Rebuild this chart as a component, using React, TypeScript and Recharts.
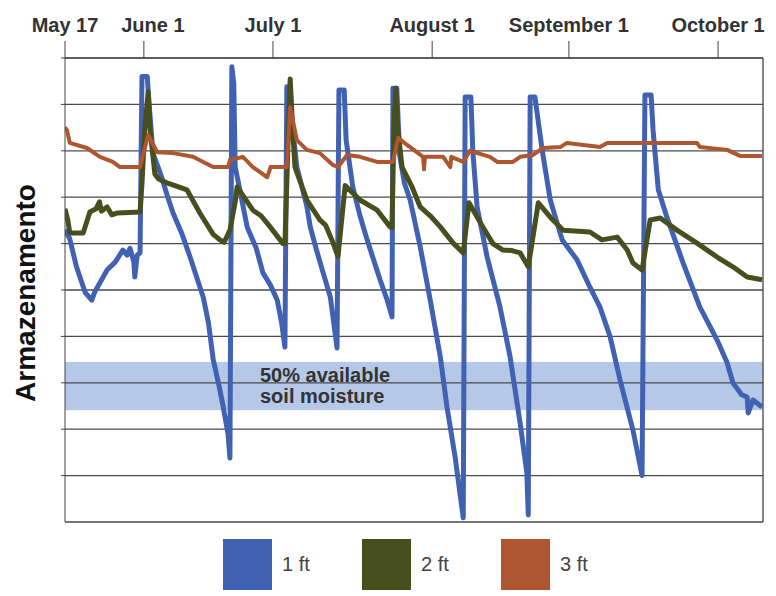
import {
  LineChart,
  Line,
  XAxis,
  YAxis,
  CartesianGrid,
  ReferenceArea,
  ReferenceLine,
} from "recharts";

// days counted from May 17
const tickDays = [0, 16.5, 43.5, 76.8, 105.4, 136.6];
const tickLabels = ["May 17", "June 1", "July 1", "August 1", "September 1", "October 1"];
const yTicks = [0, 1, 2, 3, 4, 5, 6, 7, 8, 9, 10];
const lastDay = 146;
const band = [2.41, 3.45];
const bandText = ["50% available", "soil moisture"];

const depthLabels = ["1 ft", "2 ft", "3 ft"];
const depthColors = ["#4162b2", "#474f1f", "#ad5630"];

const ft1: [number, number][] = [
  [0, 6.3], [1.0, 6.1], [2.4, 5.5], [4.2, 4.95], [5.6, 4.78], [6.2, 4.95], [8.8, 5.43],
  [10.5, 5.6], [12.1, 5.86], [13.0, 5.75], [13.6, 5.9], [14.4, 5.6], [14.6, 5.28], [15.1, 5.75],
  [15.7, 5.8], [16.1, 9.6], [17.2, 9.6], [17.6, 9.0], [18.4, 7.95], [20.0, 7.5], [21.5, 7.0],
  [22.6, 6.66], [24.5, 6.2], [26.2, 5.7], [28.9, 4.85], [30.0, 4.3], [31.0, 3.5], [32.3, 2.9],
  [33.1, 2.48], [34.1, 1.9], [34.5, 1.38], [34.9, 9.81], [35.3, 9.45], [35.6, 7.65], [36.5, 7.2],
  [38.1, 6.36], [40.0, 5.9], [41.4, 5.37], [43.0, 5.1], [44.4, 4.78], [45.3, 4.3], [46.0, 3.77],
  [46.4, 9.38], [47.1, 9.38], [47.5, 8.6], [48.5, 7.65], [50.6, 6.8], [51.3, 6.36], [52.5, 5.9],
  [54.0, 5.37], [55.5, 4.85], [56.9, 3.75], [57.3, 9.31], [58.4, 9.31], [58.8, 8.23], [60.2, 7.22],
  [61.7, 6.6], [63.2, 6.08], [65.9, 5.22], [67.4, 4.78], [68.4, 4.42], [68.6, 9.35], [69.4, 9.35],
  [70.0, 7.9], [71.0, 7.3], [72.2, 6.94], [74.3, 5.93], [76.4, 4.78], [78.5, 3.56], [79.9, 2.48],
  [81.6, 1.4], [83.3, 0.09], [83.7, 9.16], [84.9, 9.16], [85.3, 8.0], [86.2, 6.79], [88.3, 5.71],
  [91.0, 4.63], [93.1, 3.56], [95.2, 2.13], [96.6, 1.06], [96.9, 0.15], [97.3, 9.16], [98.3, 9.16],
  [99.8, 8.02], [101.5, 6.94], [104.0, 6.08], [107.1, 5.65], [109.8, 5.06], [111.9, 4.63],
  [114.0, 4.0], [116.1, 3.06], [118.8, 1.98], [120.7, 1.0], [121.3, 9.2], [122.6, 9.2], [123.0, 8.45],
  [124.1, 7.16], [125.9, 6.57], [129.3, 5.58], [132.8, 4.63], [136.4, 3.92], [138.5, 3.43],
  [139.7, 3.0], [141.5, 2.75], [142.7, 2.69], [142.9, 2.35], [143.9, 2.63], [145.8, 2.48],
];

const ft2: [number, number][] = [
  [0, 6.75], [0.6, 6.5], [1.0, 6.23], [3.8, 6.23], [5.2, 6.68], [6.5, 6.75], [7.2, 6.9], [7.6, 6.7],
  [8.8, 6.79], [9.8, 6.62], [11.0, 6.66], [15.7, 6.68], [16.1, 7.3], [16.7, 8.5], [17.4, 9.27],
  [17.8, 8.45], [18.8, 7.5], [19.5, 7.4], [21.3, 7.31], [23.0, 7.25], [25.5, 7.16], [28.2, 6.66],
  [31.0, 6.2], [32.4, 6.08], [33.3, 6.03], [34.5, 6.29], [35.6, 6.9], [36.0, 7.22], [39.3, 6.72],
  [41.0, 6.6], [42.9, 6.36], [45.6, 6.0], [46.0, 6.0], [46.6, 8.0], [47.1, 9.55], [47.6, 8.5],
  [48.1, 7.65], [50.6, 6.94], [53.3, 6.51], [54.5, 6.4], [56.1, 6.01], [57.1, 5.72], [58.6, 7.25],
  [61.7, 6.94], [65.3, 6.72], [68.0, 6.36], [68.4, 6.34], [68.8, 8.5], [69.2, 9.35], [69.6, 8.5],
  [70.5, 7.65], [72.6, 7.22], [74.3, 6.79], [76.4, 6.6], [78.5, 6.36], [81.2, 6.01], [83.3, 5.8],
  [84.5, 6.88], [87.4, 6.36], [89.5, 6.0], [91.6, 5.86], [93.5, 5.85], [95.2, 5.8], [96.9, 5.5],
  [99.0, 6.88], [101.5, 6.57], [104.2, 6.29], [109.8, 6.25], [112.3, 6.08], [115.5, 6.14],
  [117.6, 5.86], [118.8, 5.58], [120.7, 5.43], [122.4, 6.51], [124.5, 6.55], [128.0, 6.29],
  [132.2, 6.01], [136.4, 5.71], [139.7, 5.5], [142.7, 5.28], [145.8, 5.22],
];

const ft3: [number, number][] = [
  [0, 8.5], [0.4, 8.45], [1.0, 8.17], [4.6, 8.06], [7.3, 7.87], [10.0, 7.76], [11.5, 7.65],
  [15.7, 7.65], [17.4, 8.34], [19.3, 7.97], [22.6, 7.95], [26.8, 7.87], [28.9, 7.76], [31.0, 7.65],
  [34.1, 7.65], [34.5, 7.8], [37.2, 7.87], [39.3, 7.65], [42.3, 7.43], [43.0, 7.65], [46.4, 7.65],
  [47.1, 8.94], [48.5, 8.23], [50.6, 8.02], [53.3, 7.95], [56.1, 7.69], [57.1, 7.65], [59.0, 7.91],
  [61.7, 7.87], [65.3, 7.76], [68.6, 7.76], [69.7, 8.28], [71.5, 8.13], [72.2, 8.08], [74.9, 7.87],
  [75.1, 7.6], [75.3, 7.87], [79.1, 7.87], [80.6, 7.65], [80.8, 7.87], [83.3, 7.76], [84.7, 8.0],
  [88.9, 7.87], [90.4, 7.76], [93.7, 7.76], [95.2, 7.87], [97.9, 7.91], [100.0, 8.06],
  [103.6, 8.08], [105.0, 8.17], [111.9, 8.08], [113.4, 8.17], [132.2, 8.17], [132.8, 8.08],
  [138.5, 8.02], [141.2, 7.89], [145.8, 7.89],
];

const series = [ft1, ft2, ft3];
const lineWidths = [5, 5, 4];

const toPoints = (rows: [number, number][]) => rows.map(([d, v]) => ({ d, v }));

function TopTick({ x, y, index }: { x?: number; y?: number; index?: number }) {
  const shift = index === 1 ? 9 : 0;
  return (
    <text
      x={(x ?? 0) + shift}
      y={y}
      textAnchor="middle"
      fontSize={20}
      fontWeight="bold"
      fill="#333"
      fontFamily="'Liberation Sans', Arial, sans-serif"
    >
      {tickLabels[index ?? 0]}
    </text>
  );
}

function NoLabel() {
  return <g />;
}

// band rect plus the gridline that runs through it (area sits above the grid)
function BandShape({ x, y, width, height }: { x?: number; y?: number; width?: number; height?: number }) {
  if (x == null || y == null || width == null || height == null) return null;
  const gridY = y + (height * (band[1] - yTicks[3])) / (band[1] - band[0]);
  return (
    <g>
      <rect x={x} y={y} width={width} height={height} fill="#b6c8e8" />
      <line x1={x} x2={x + width} y1={gridY} y2={gridY} stroke="#4a4a4a" strokeWidth={1.3} />
    </g>
  );
}

function BandLabel({ viewBox }: { viewBox?: { x: number; y: number } }) {
  if (!viewBox) return null;
  return (
    <text
      fontSize={20}
      fontWeight="bold"
      fill="#333"
      fontFamily="'Liberation Sans', Arial, sans-serif"
    >
      <tspan x={viewBox.x + 195} y={viewBox.y + 20}>{bandText[0]}</tspan>
      <tspan x={viewBox.x + 195} y={viewBox.y + 41}>{bandText[1]}</tspan>
    </text>
  );
}

function AxisTitle({ viewBox }: { viewBox?: { x: number; y: number; height: number } }) {
  if (!viewBox) return null;
  const cx = viewBox.x + 25;
  const cy = viewBox.y + viewBox.height / 2 + 3;
  return (
    <text
      x={cx}
      y={cy}
      dy="0.35em"
      transform={`rotate(-90 ${cx} ${cy})`}
      textAnchor="middle"
      fontSize={28}
      fontWeight="bold"
      fill="#111"
      fontFamily="'Liberation Sans', Arial, sans-serif"
    >
      Armazenamento
    </text>
  );
}

export default function App() {
  return (
    <div
      style={{
        position: "absolute",
        left: 0,
        top: 0,
        width: 776,
        height: 596,
        background: "#fff",
        fontFamily: "'Liberation Sans', Arial, sans-serif",
      }}
    >
      <LineChart width={776} height={530} margin={{ top: 0, right: 13, bottom: 8, left: 0 }}>
        <CartesianGrid horizontal vertical={false} stroke="#4a4a4a" strokeWidth={1.3} />
        <ReferenceArea y1={band[0]} y2={band[1]} shape={<BandShape />} label={<BandLabel />} />
        <XAxis
          dataKey="d"
          type="number"
          orientation="top"
          domain={[0, lastDay]}
          ticks={tickDays}
          allowDataOverflow
          height={58}
          tickSize={17}
          tickMargin={9}
          stroke="#444"
          tick={<TopTick />}
        />
        <YAxis
          type="number"
          domain={[0, 10]}
          ticks={yTicks}
          width={65}
          tickSize={4}
          tick={<NoLabel />}
          stroke="#444"
          label={<AxisTitle />}
        />
        <ReferenceLine x={lastDay} stroke="#444" strokeWidth={1.3} />
        {series.map((rows, i) => (
          <Line
            key={depthLabels[i]}
            data={toPoints(rows)}
            dataKey="v"
            type="linear"
            stroke={depthColors[i]}
            strokeWidth={lineWidths[i]}
            strokeLinejoin="round"
            dot={false}
            activeDot={false}
            isAnimationActive={false}
          />
        ))}
      </LineChart>
      <div style={{ position: "absolute", top: 539, left: 223, display: "flex" }}>
        {depthLabels.map((label, i) => (
          <div key={label} style={{ width: 139, display: "flex", alignItems: "center" }}>
            <div style={{ width: 49, height: 51, background: depthColors[i] }} />
            <span style={{ marginLeft: 10, fontSize: 20, color: "#444" }}>{label}</span>
          </div>
        ))}
      </div>
    </div>
  );
}
